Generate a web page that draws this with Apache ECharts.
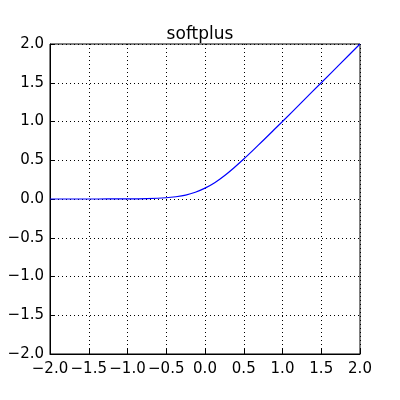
<!DOCTYPE html>
<html><head><meta charset="utf-8">
<script src="https://cdn.jsdelivr.net/npm/echarts@6/dist/echarts.min.js"></script>
<style>html,body{margin:0;padding:0;background:#fff}#c{width:400px;height:400px}</style>
</head><body><div id="c"></div>
<script>
// points
const xs = [-2, -1.75, -1.5, -1.25, -1, -0.75, -0.5, -0.375, -0.25, -0.125, 0, 0.125, 0.25, 0.375, 0.5, 0.625, 0.75, 0.875, 1, 1.25, 1.5, 1.75, 2];
const ys = [0, 0, 0, 0.0004, 0.001, 0.005, 0.016, 0.029, 0.05, 0.087, 0.14, 0.21, 0.3, 0.404, 0.516, 0.634, 0.755, 0.878, 1.0, 1.25, 1.5, 1.75, 2.0];

let chart = echarts.init(document.getElementById('c'));
const fmt = v => v.toFixed(1).replace('-', '\u2212');
function axis() {
    return {
        type: 'value', min: -2, max: 2, interval: 0.5,
        axisLine: { show: true, onZero: false, lineStyle: { color: '#000' } },
        axisTick: { show: true, inside: true, length: 5, lineStyle: { color: '#000' } },
        axisLabel: { color: '#000', fontSize: 15, fontFamily: 'DejaVu Sans', formatter: fmt, margin: 6 },
        splitLine: { show: true, lineStyle: { color: '#000', type: [1, 3], width: 1 } }
    };
}
let xAxis = axis(), yAxis = axis();
xAxis.axisLabel.margin = 8;
chart.setOption({
    animation: false,
    title: { text: 'softplus', left: 'center', top: 21, textStyle: { fontSize: 17, fontWeight: 'normal', color: '#000', fontFamily: 'DejaVu Sans' } },
    grid: { left: 50, right: 40, top: 44, bottom: 46, show: true, borderColor: '#000', borderWidth: 1 },
    xAxis: xAxis,
    yAxis: yAxis,
    series: [{
        type: 'line', smooth: 0.3, showSymbol: false,
        data: xs.map((x, i) => [x, ys[i]]),
        lineStyle: { color: '#0000ff', width: 1.2 }
    }]
});
</script></body></html>
